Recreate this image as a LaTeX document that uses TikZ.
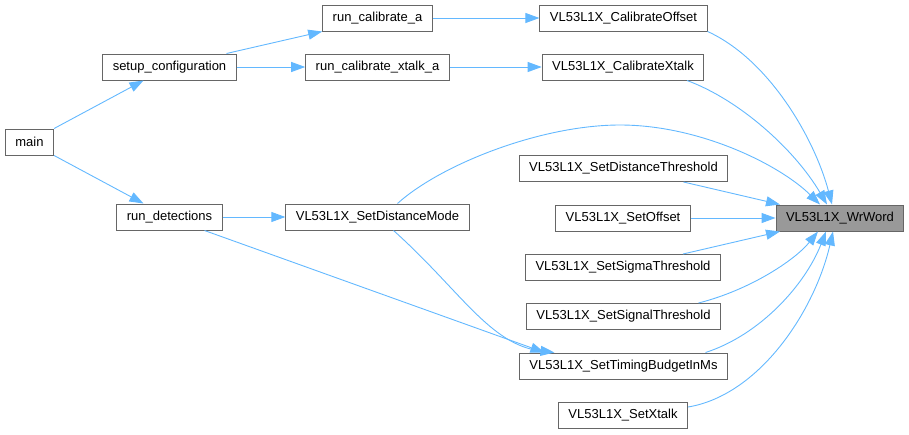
\documentclass[tikz,border=0pt]{standalone}
\usepackage{fontspec}
\setmainfont{Liberation Sans}
\usepackage{tikz}
\usetikzlibrary{arrows.meta,positioning}
\definecolor{Borde}{HTML}{666666}
\definecolor{Foco}{HTML}{999999}
\definecolor{Llamada}{HTML}{63B8FF}

\begin{document}
\begin{tikzpicture}[
  x=1pt,y=-1pt,
  every node/.style={font=\fontsize{13}{15}\selectfont},
  fnbox/.style={draw=Borde,line width=1pt,fill=white,inner xsep=10pt,
    minimum height=26pt,inner ysep=0pt},
  focus/.style={fnbox,fill=Foco},
  callarrow/.style={-{Triangle[length=14pt,width=10pt]},line width=0.9pt,draw=Llamada}
]
  \useasboundingbox (0,0) rectangle (909,434);

  % Funciones que llaman
  \node[fnbox] (main)   at (29.5,142) {main};
  \node[fnbox] (setup)  at (169.5,67) {setup\_configuration};
  \node[fnbox] (rundet) at (169.5,217) {run\_detections};
  \node[fnbox] (runcal) at (377.5,18) {run\_calibrate\_a};
  \node[fnbox] (runxt)  at (377.5,67) {run\_calibrate\_xtalk\_a};
  \node[fnbox] (dmode)  at (377.5,217) {VL53L1X\_SetDistanceMode};

  % Funciones de la API
  \node[fnbox] (caloff) at (623.5,18) {VL53L1X\_CalibrateOffset};
  \node[fnbox] (calxt)  at (623,67) {VL53L1X\_CalibrateXtalk};
  \node[fnbox] (dthr)   at (623.5,168.5) {VL53L1X\_SetDistanceThreshold};
  \node[fnbox] (soff)   at (623,218) {VL53L1X\_SetOffset};
  \node[fnbox] (sigma)  at (623,267.5) {VL53L1X\_SetSigmaThreshold};
  \node[fnbox] (signal) at (623.5,316.5) {VL53L1X\_SetSignalThreshold};
  \node[fnbox] (timing) at (623.5,366) {VL53L1X\_SetTimingBudgetInMs};
  \node[fnbox] (sxtalk) at (623,415) {VL53L1X\_SetXtalk};
  \node[focus] (wrword) at (840,218) {VL53L1X\_WrWord};

  % Llamadas de la aplicacion
  \draw[callarrow] (main.north east) -- ([xshift=-26pt]setup.south);
  \draw[callarrow] (main.south east) -- ([xshift=-26pt]rundet.north);
  \draw[callarrow] ([xshift=57pt]setup.north) -- (runcal.south west);
  \draw[callarrow] (setup.east) -- (runxt.west);
  \draw[callarrow] (runcal.east) -- (caloff.west);
  \draw[callarrow] (runxt.east) -- (calxt.west);
  \draw[callarrow] (rundet.east) -- (dmode.west);
  \draw[callarrow] ([xshift=35pt]rundet.south) -- ([xshift=-79pt]timing.north);
  \draw[callarrow] ([xshift=16pt]dmode.south)
    .. controls (460,290) and (490,345) .. ([xshift=-69pt]timing.north);
  \draw[callarrow] ([xshift=20pt]dmode.north)
    .. controls (440,165) and (540,125) .. (620,125)
    .. controls (700,125) and (780,165) .. ([xshift=-20pt]wrword.north);

  % Llamadas hacia la escritura de registros
  \draw[callarrow] (caloff.south east)
    .. controls (770,60) and (815,140) .. ([xshift=-8pt]wrword.north);
  \draw[callarrow] ([xshift=64pt]calxt.south)
    .. controls (740,100) and (795,150) .. ([xshift=-13pt]wrword.north);
  \draw[callarrow] ([xshift=60pt]dthr.south) -- ([xshift=-60pt]wrword.north);
  \draw[callarrow] (soff.east) -- (wrword.west);
  \draw[callarrow] ([xshift=60pt]sigma.north) -- ([xshift=-60pt]wrword.south);
  \draw[callarrow] ([xshift=75pt]signal.north)
    .. controls (750,290) and (795,260) .. ([xshift=-22pt]wrword.south);
  \draw[callarrow] ([xshift=82pt]timing.north)
    .. controls (760,335) and (805,285) .. ([xshift=-14pt]wrword.south);
  \draw[callarrow] ([yshift=8pt]sxtalk.east)
    .. controls (760,395) and (815,310) .. ([xshift=-7pt]wrword.south);
\end{tikzpicture}
\end{document}
